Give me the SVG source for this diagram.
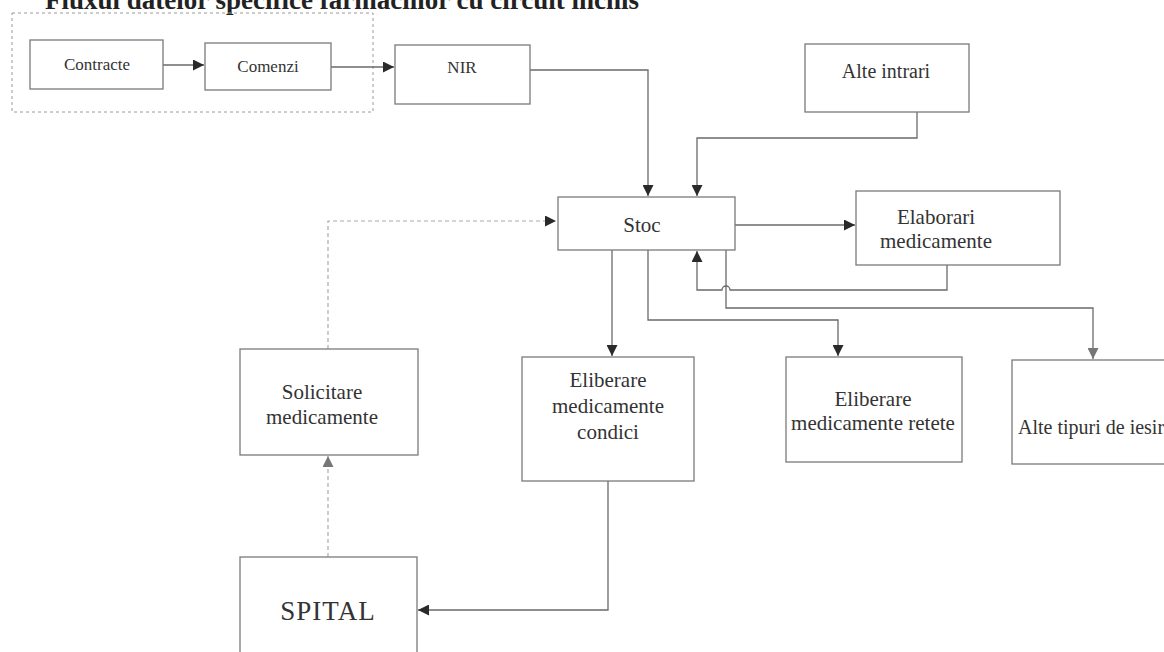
<svg xmlns="http://www.w3.org/2000/svg" width="1164" height="652" viewBox="0 0 1164 652">
<defs>
<style>
.box{fill:#fff;stroke:#7a7a7a;stroke-width:1.3}
.t{font-family:"Liberation Serif","Times New Roman",serif;font-size:17px;fill:#333;text-anchor:middle}
.m{font-size:21px}
.c{fill:none;stroke:#6a6a6a;stroke-width:1.3}
.d{fill:none;stroke:#aaa;stroke-width:1.2;stroke-dasharray:4 3}
</style>
<marker id="ah" viewBox="0 0 10 10" refX="10" refY="5" markerWidth="11" markerHeight="11" markerUnits="userSpaceOnUse" orient="auto"><path d="M0,0 L10,5 L0,10 Z" fill="#2a2a2a"/></marker>
<marker id="ahg" viewBox="0 0 10 10" refX="10" refY="5" markerWidth="11" markerHeight="11" markerUnits="userSpaceOnUse" orient="auto"><path d="M0,0 L10,5 L0,10 Z" fill="#777"/></marker>
</defs>
<rect width="1164" height="652" fill="#fff"/>
<text x="45" y="9" font-family="Liberation Serif,serif" font-weight="bold" font-size="27" fill="#222">Fluxul datelor specifice farmaciilor cu circuit inchis</text>
<rect x="12" y="13" width="361" height="99" fill="none" stroke="#9a9a9a" stroke-width="1" stroke-dasharray="3 3"/>
<g id="connectors">
<path class="c" d="M163,65 H204" marker-end="url(#ah)"/>
<path class="c" d="M331,67 H394" marker-end="url(#ah)"/>
<path class="c" d="M530,70 H648 V196" marker-end="url(#ah)"/>
<path class="c" d="M917,112 V138 H697 V196" marker-end="url(#ah)"/>
<path class="c" d="M735,225 H855" marker-end="url(#ah)"/>
<path class="c" d="M947,265 V290 H730 A4,4 0 0 0 722,290 H697 V251" marker-end="url(#ah)"/>
<path class="c" d="M612,250 V356" marker-end="url(#ah)"/>
<path class="c" d="M648,250 V320 H838 V356" marker-end="url(#ah)"/>
<path class="c" d="M726,250 V308 H1093 V359" marker-end="url(#ahg)"/>
<path class="c" d="M608,481 V610 H418" marker-end="url(#ah)"/>
<path class="d" d="M328,349 V221 H556" marker-end="url(#ah)"/>
<path class="d" d="M328,557 V456" marker-end="url(#ahg)"/>
</g>
<g id="contracte"><rect class="box" x="30" y="40" width="133" height="49"/><text class="t" x="97" y="70">Contracte</text></g>
<g id="comenzi"><rect class="box" x="205" y="43" width="126" height="47"/><text class="t" x="268" y="72">Comenzi</text></g>
<g id="nir"><rect class="box" x="395" y="45" width="135" height="59"/><text class="t" x="462" y="73">NIR</text></g>
<g id="alte-intrari"><rect class="box" x="805" y="44" width="164" height="68"/><text class="t" x="886" y="78" style="font-size:20px">Alte intrari</text></g>
<g id="stoc"><rect class="box" x="558" y="197" width="177" height="53"/><text class="t m" x="642" y="232">Stoc</text></g>
<g id="elaborari"><rect class="box" x="856" y="191" width="204" height="74"/><text class="t m" x="936" y="224">Elaborari</text><text class="t m" x="936" y="248">medicamente</text></g>
<g id="solicitare"><rect class="box" x="240" y="349" width="178" height="106"/><text class="t m" x="322" y="399">Solicitare</text><text class="t m" x="322" y="424">medicamente</text></g>
<g id="eliberare-condici"><rect class="box" x="522" y="357" width="172" height="124"/><text class="t m" x="608" y="387">Eliberare</text><text class="t m" x="608" y="413">medicamente</text><text class="t m" x="608" y="439">condici</text></g>
<g id="eliberare-retete"><rect class="box" x="786" y="357" width="176" height="105"/><text class="t m" x="873" y="406">Eliberare</text><text class="t m" x="873" y="430">medicamente retete</text></g>
<g id="alte-tipuri"><rect class="box" x="1012" y="360" width="160" height="104"/><text class="t" x="1018" y="434" style="text-anchor:start;font-size:20px">Alte tipuri de iesir</text></g>
<g id="spital"><rect class="box" x="240" y="557" width="177" height="110"/><text class="t" x="328" y="620" style="font-size:27px;letter-spacing:1px">SPITAL</text></g>
</svg>
